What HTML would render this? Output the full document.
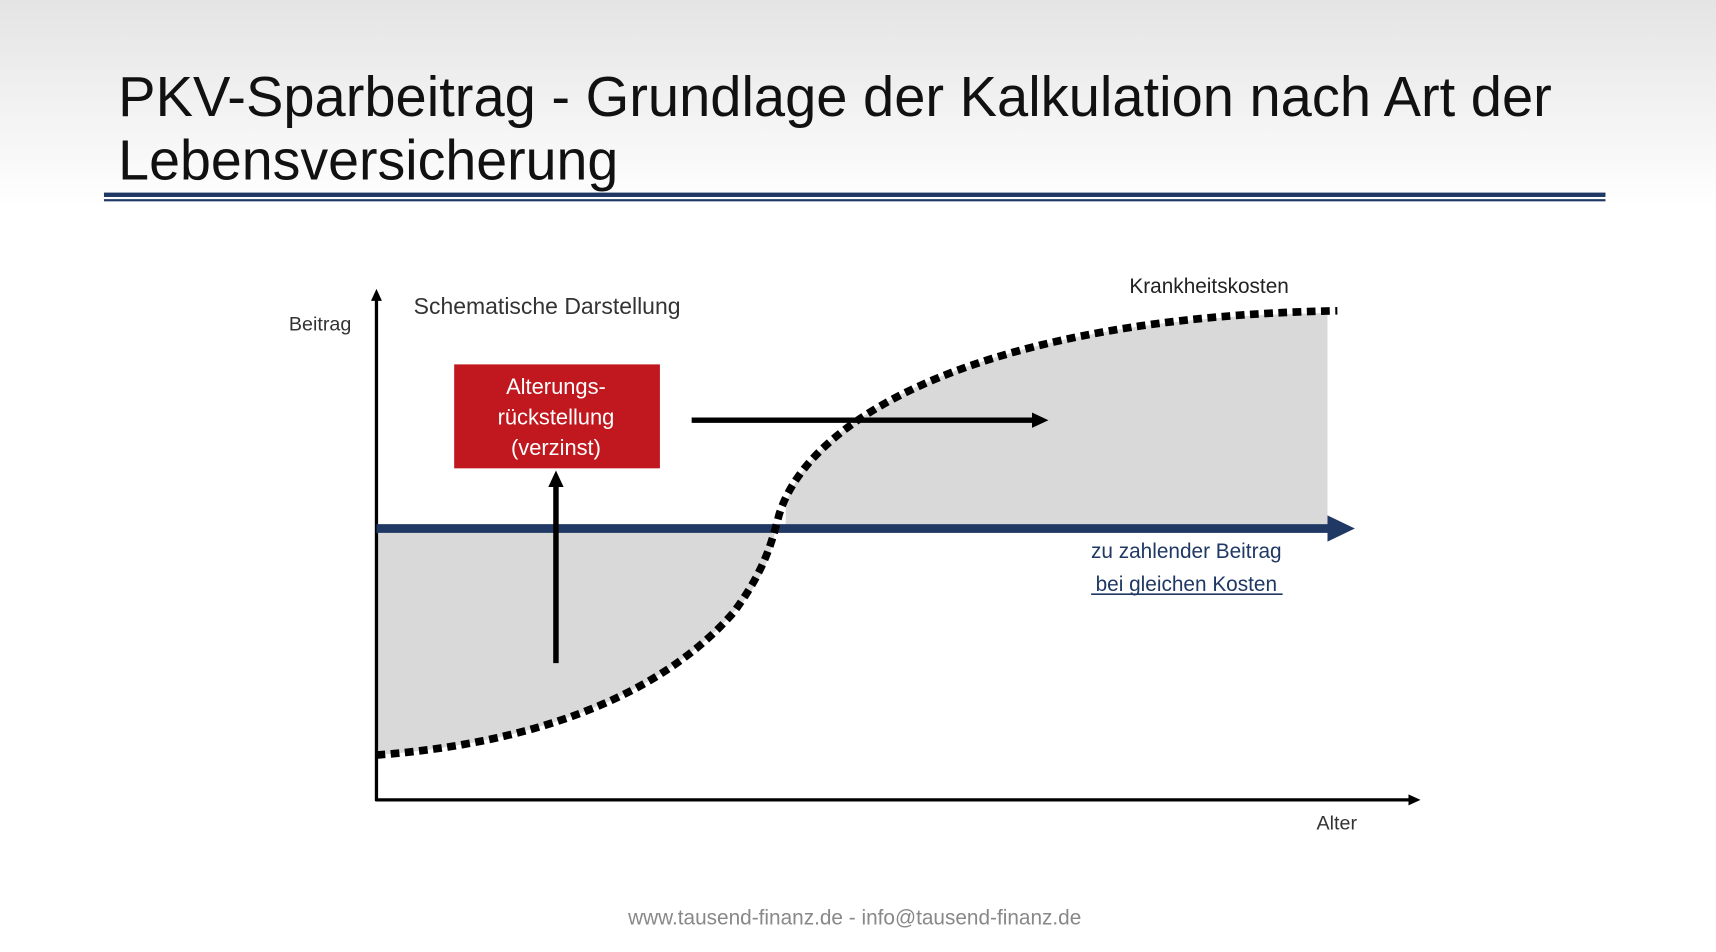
<!DOCTYPE html>
<html><head><meta charset="utf-8"><style>
html,body{margin:0;padding:0;width:1716px;height:952px;overflow:hidden;background:#fff}
svg{display:block}
text{font-family:"Liberation Sans",sans-serif}
</style></head><body>
<svg width="1716" height="952" viewBox="0 0 1568 870" preserveAspectRatio="none" xmlns="http://www.w3.org/2000/svg">
<defs>
<linearGradient id="bg" x1="0" y1="0" x2="0" y2="1">
<stop offset="0" stop-color="#e4e4e4"/><stop offset="1" stop-color="#ffffff"/>
</linearGradient>
</defs>
<rect x="0" y="0" width="1568" height="190" fill="url(#bg)"/>
<text x="108" y="106" font-size="52" fill="#111" textLength="1310" lengthAdjust="spacingAndGlyphs">PKV-Sparbeitrag - Grundlage der Kalkulation nach Art der</text>
<text x="108" y="164" font-size="52" fill="#111" textLength="457" lengthAdjust="spacingAndGlyphs">Lebensversicherung</text>
<rect x="95" y="176" width="1372" height="4" fill="#1f3864"/>
<rect x="95" y="182" width="1372" height="2" fill="#1f3864"/>

<!-- fills -->
<path d="M344,487 L708,487 C705,500 700,530 670,560 C600,640 480,680 344,690 Z" fill="#d9d9d9"/>
<path d="M718,479 L1213,479 L1213,286 C900,290 745,380 718,460 Z" fill="#d9d9d9"/>

<!-- axes -->
<line x1="344" y1="272" x2="344" y2="732" stroke="#000" stroke-width="3"/>
<polygon points="344,264 339,275 349,275" fill="#000"/>
<line x1="343" y1="731" x2="1290" y2="731" stroke="#000" stroke-width="3"/>
<polygon points="1298,731 1287,726 1287,736" fill="#000"/>

<!-- navy bar -->
<rect x="344" y="479" width="872" height="8" fill="#1f3864"/>
<polygon points="1238,483 1213,471 1213,495" fill="#1f3864"/>

<!-- curve -->
<path d="M344,690 C480,680 600,640 670,560 C700,520 706,492 712,470 C740,380 900,290 1222,284" fill="none" stroke="#000" stroke-width="7" stroke-dasharray="8 5"/>

<!-- red box -->
<rect x="415" y="333" width="188" height="95" fill="#c0181e"/>
<text x="508" y="360" font-size="20" fill="#fff" text-anchor="middle">Alterungs-</text>
<text x="508" y="388" font-size="20" fill="#fff" text-anchor="middle">rückstellung</text>
<text x="508" y="416" font-size="20" fill="#fff" text-anchor="middle">(verzinst)</text>

<!-- arrows -->
<line x1="508" y1="606" x2="508" y2="442" stroke="#000" stroke-width="5"/>
<polygon points="508,430 501,445 515,445" fill="#000"/>
<line x1="632" y1="384" x2="946" y2="384" stroke="#000" stroke-width="5"/>
<polygon points="958,384 943,377 943,391" fill="#000"/>

<!-- labels -->
<text x="264" y="302" font-size="18" fill="#333">Beitrag</text>
<text x="378" y="287" font-size="21" fill="#333">Schematische Darstellung</text>
<text x="1032" y="268" font-size="19" fill="#222">Krankheitskosten</text>
<text x="1084" y="510" font-size="19" fill="#1f3864" text-anchor="middle">zu zahlender Beitrag</text>
<text x="1084" y="540" font-size="19" fill="#1f3864" text-anchor="middle">bei gleichen Kosten</text>
<line x1="997" y1="543" x2="1172" y2="543" stroke="#1f3864" stroke-width="1.5"/>
<text x="1203" y="758" font-size="18" fill="#333">Alter</text>
<text x="781" y="845" font-size="19" fill="#888" text-anchor="middle">www.tausend-finanz.de - info@tausend-finanz.de</text>
</svg>
</body></html>
